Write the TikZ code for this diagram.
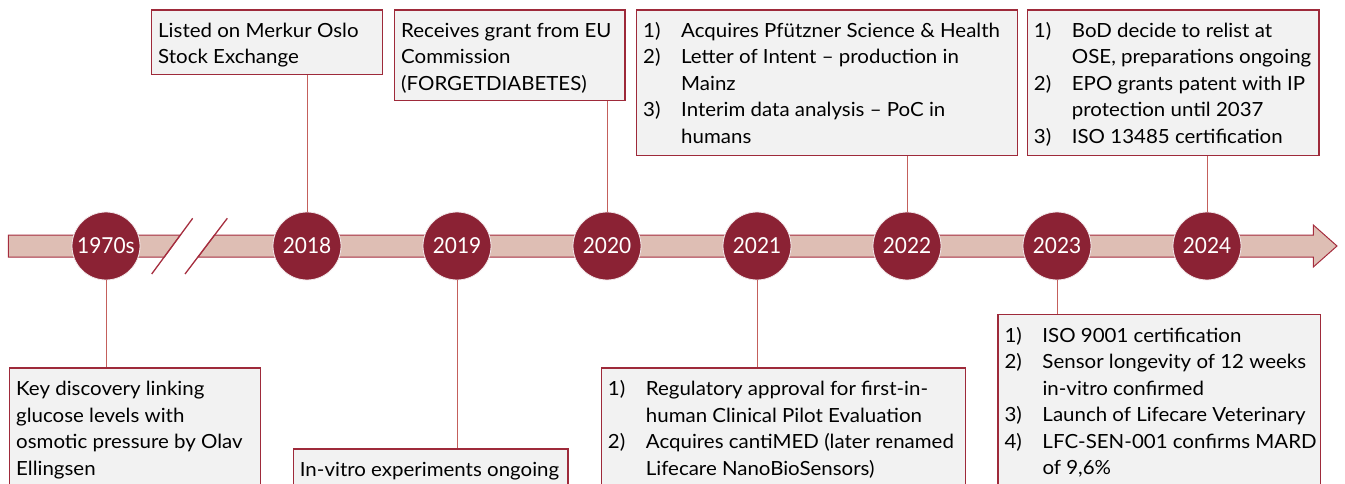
\documentclass[tikz,border=0pt]{standalone}
\usepackage{fontspec}
\setmainfont[FakeStretch=1.05]{Lato}
\newfontfamily\yearfont[FakeStretch=0.95]{Lato}
\definecolor{maroon}{RGB}{139,34,52}
\definecolor{barfill}{RGB}{222,190,180}
\definecolor{barline}{RGB}{165,45,62}
\definecolor{boxline}{RGB}{158,42,58}
\definecolor{boxfill}{RGB}{242,242,242}
\definecolor{linkline}{RGB}{196,96,92}
% number column of the enumerated boxes
\newcommand\itemno[1]{\makebox[38pt][l]{#1}}
\newcommand\cont{\hspace*{38pt}}
% fixed-size text area: width, height, content
\newcommand\boxtext[3]{\parbox[t][#2][t]{#1}{\raggedright\leftskip=6.5pt\rule{0pt}{27.5pt}#3}}
\begin{document}
\begin{tikzpicture}[x=1pt,y=-1pt,
  year/.style={circle,minimum size=68pt,inner sep=0pt,fill=maroon,draw=white!90!maroon,
    line width=0.8pt,text=white,font=\yearfont\fontsize{22}{22}\selectfont},
  event/.style={rectangle,anchor=north west,inner sep=0pt,fill=boxfill,draw=boxline,
    line width=1.4pt,font=\fontsize{19.5}{26.5}\selectfont},
  link/.style={draw=linkline,line width=1pt},
  bar/.style={fill=barfill,draw=barline,line width=1pt,line join=miter},
  slash/.style={draw=barline,line width=1.3pt}]
\useasboundingbox (0,0) rectangle (1345,484);
\clip (0,0) rectangle (1345,484);

% timeline bar, interrupted by the break marks
\path[bar] (8.3,235) -- (180.4,235) -- (164.4,257) -- (8.3,257) -- cycle;
\path[bar] (214.6,235) -- (1313.3,235) -- (1313.3,225) -- (1337,246)
  -- (1313.3,267) -- (1313.3,257) -- (198.1,257) -- cycle;
\coordinate (s1a) at (151.7,274);
\coordinate (s1b) at (192.7,218.3);
\coordinate (s2a) at (185,274);
\coordinate (s2b) at (227.3,218.3);
\draw[slash] (s1a) -- (s1b);
\draw[slash] (s2a) -- (s2b);

% years
\node[year] (y1970) at (106,246) {1970s};
\node[year] (y2018) at (307,246) {2018};
\node[year] (y2019) at (457,246) {2019};
\node[year] (y2020) at (607,246) {2020};
\node[year] (y2021) at (757,246) {2021};
\node[year] (y2022) at (907,246) {2022};
\node[year] (y2023) at (1057,246) {2023};
\node[year] (y2024) at (1207,246) {2024};

% events above the bar
\node[event] (b2018) at (151,9.3) {\boxtext{230.7pt}{64.7pt}{%
  Listed on Merkur Oslo\\Stock Exchange}};
\node[event] (b2020) at (394,9.3) {\boxtext{230.3pt}{90.7pt}{%
  Receives grant from EU\\Commission\\(FORGETDIABETES)}};
\node[event] (b2022) at (636,9.3) {\boxtext{380.7pt}{145.7pt}{%
  \itemno{1)}Acquires Pfützner Science \& Health\\
  \itemno{2)}Letter of Intent – production in\\
  \cont Mainz\\
  \itemno{3)}Interim data analysis – PoC in\\
  \cont humans}};
\node[event] (b2024) at (1026.7,9.3) {\boxtext{291.6pt}{145.7pt}{%
  \itemno{1)}BoD decide to relist at\\
  \cont OSE, preparations ongoing\\
  \itemno{2)}EPO grants patent with IP\\
  \cont protection until 2037\\
  \itemno{3)}ISO 13485 certification}};

% events below the bar
\node[event] (b1970) at (9,367.3) {\boxtext{251pt}{200pt}{%
  Key discovery linking\\glucose levels with\\osmotic pressure by Olav\\Ellingsen}};
\node[event] (b2019) at (292.7,448.3) {\boxtext{274.6pt}{200pt}{%
  In-vitro experiments ongoing}};
\node[event] (b2021) at (600.7,367.3) {\boxtext{364.3pt}{200pt}{%
  \itemno{1)}Regulatory approval for first-in-\\
  \cont human Clinical Pilot Evaluation\\
  \itemno{2)}Acquires cantiMED (later renamed\\
  \cont Lifecare NanoBioSensors)}};
\node[event] (b2023) at (997.3,314) {\boxtext{322.7pt}{250pt}{%
  \itemno{1)}ISO 9001 certification\\
  \itemno{2)}Sensor longevity of 12 weeks\\
  \cont in-vitro confirmed\\
  \itemno{3)}Launch of Lifecare Veterinary\\
  \itemno{4)}LFC-SEN-001 confirms MARD\\
  \cont of 9,6\%}};

% connectors
\draw[link] (y2018.north) -- (y2018.north |- b2018.south);
\draw[link] (y2020.north) -- (y2020.north |- b2020.south);
\draw[link] (y2022.north) -- (y2022.north |- b2022.south);
\draw[link] (y2024.north) -- (y2024.north |- b2024.south);
\draw[link] (y1970.south) -- (y1970.south |- b1970.north);
\draw[link] (y2019.south) -- (y2019.south |- b2019.north);
\draw[link] (y2021.south) -- (y2021.south |- b2021.north);
\draw[link] (y2023.south) -- (y2023.south |- b2023.north);
\end{tikzpicture}
\end{document}
